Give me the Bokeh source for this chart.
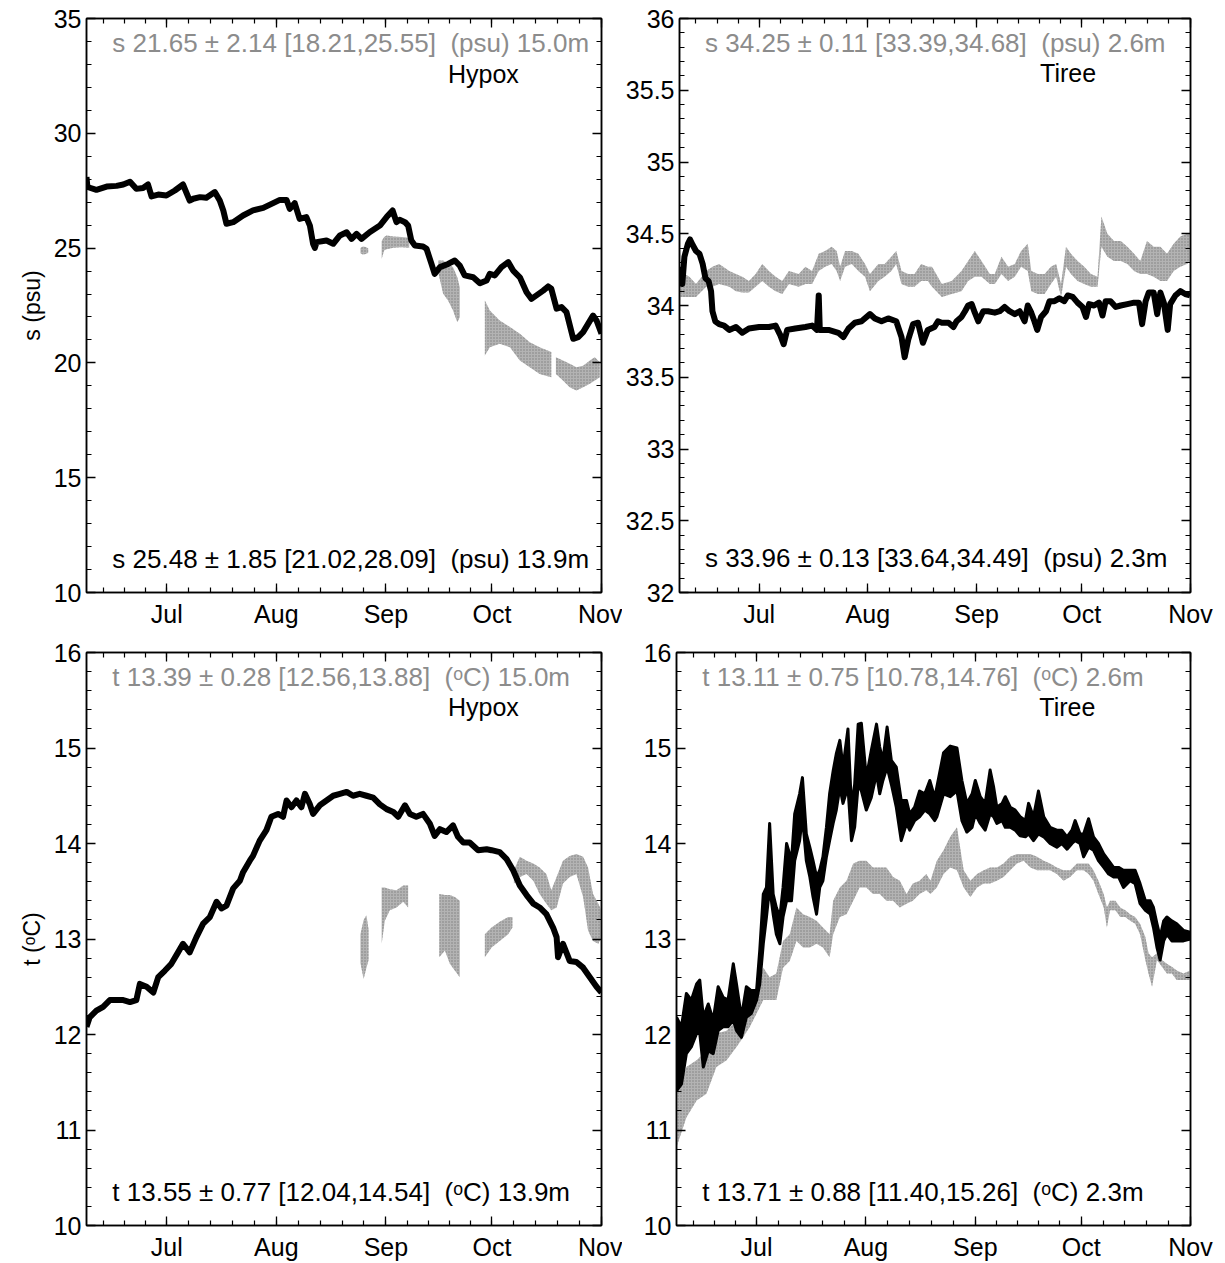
from bokeh.plotting import figure
from bokeh.layouts import column, row
from bokeh.models import FixedTicker, Label, LinearAxis, Range1d, CustomLabelingPolicy
from bokeh.embed import file_html
from bokeh.resources import INLINE

# ---- time axis: days counted from 1 June ----
month_starts = [0, 30, 61, 92, 122, 153]
month_ticks = [30, 61, 92, 122, 153]
month_names = ["Jul", "Aug", "Sep", "Oct", "Nov"]
x_start, x_end = 7.3, 153.0

# ---- Hypox salinity: 13.9 m (black) ----
hyp_s_day = [7.3, 7.5, 7.8, 10.1, 13.0, 15.8, 17.7, 19.6, 21.4, 23.3, 24.7, 25.7, 27.6, 29.9, 32.3,
             34.6, 36.5, 37.5, 39.4, 41.2, 43.6, 45.0, 46.0, 46.9, 48.8, 51.6, 54.4, 57.3, 60.1,
             62.0, 63.9, 64.8, 66.2, 67.6, 69.5, 70.5, 71.4, 71.9, 72.4, 75.2, 77.1, 79.0, 80.9,
             82.3, 83.7, 85.1, 87.4, 90.3, 92.2, 93.9, 95.0, 95.9, 97.4, 98.3, 99.2, 100.2, 102.5,
             103.5, 104.9, 105.8, 107.3, 109.6, 111.5, 112.9, 114.3, 116.7, 118.6, 120.5, 121.4,
             122.8, 124.7, 126.6, 128.0, 129.9, 131.8, 133.2, 134.6, 136.5, 137.9, 138.8, 140.3,
             141.7, 143.1, 145.0, 146.4, 147.8, 149.2, 150.6, 151.6, 153.0]
hyp_s_val = [28.10, 27.75, 27.65, 27.54, 27.68, 27.71, 27.77, 27.89, 27.58, 27.62, 27.77, 27.25, 27.33,
             27.29, 27.51, 27.77, 27.07, 27.15, 27.22, 27.19, 27.44, 27.07, 26.64, 26.06, 26.13,
             26.42, 26.64, 26.75, 26.96, 27.10, 27.10, 26.71, 26.96, 26.27, 26.35, 25.98, 25.19,
             25.01, 25.26, 25.33, 25.19, 25.55, 25.69, 25.40, 25.62, 25.40, 25.69, 25.98, 26.35,
             26.64, 26.13, 26.23, 26.13, 25.98, 25.33, 25.11, 25.07, 24.97, 24.31, 23.88, 24.17,
             24.31, 24.46, 24.24, 23.81, 23.73, 23.47, 23.59, 23.88, 23.81, 24.17, 24.39, 24.02,
             23.73, 23.08, 22.79, 22.94, 23.15, 23.33, 23.23, 22.36, 22.43, 22.21, 21.05, 21.12,
             21.34, 21.70, 22.06, 21.85, 21.27]

# ---- Hypox salinity: 15.0 m (grey), spread per sample, grouped in records ----
hyp_s2_grp = [0, 0, 0, 0,
              1, 1, 1, 1, 1, 1,
              2, 2, 2, 2, 2, 2,
              3, 3, 3, 3, 3, 3, 3, 3,
              4, 4, 4, 4, 4, 4, 4, 4]
hyp_s2_day = [84.8, 85.5, 86.3, 87.0,
              90.8, 91.5, 92.2, 94.1, 96.4, 98.6,
              106.8, 108.2, 109.6, 111.0, 112.2, 112.9,
              120.0, 121.4, 124.2, 127.1, 129.9, 132.7, 135.5, 138.8,
              140.1, 142.1, 144.0, 145.9, 147.8, 149.7, 151.1, 152.5]
hyp_s2_hi = [25.00, 25.07, 25.05, 24.98,
             25.30, 25.48, 25.55, 25.51, 25.48, 25.45,
             24.46, 24.46, 24.31, 24.17, 23.73, 23.30,
             22.72, 22.28, 21.85, 21.56, 21.27, 20.90, 20.68, 20.47,
             20.25, 20.10, 19.96, 19.81, 19.88, 20.10, 20.25, 20.03]
hyp_s2_lo = [24.78, 24.72, 24.74, 24.80,
             24.53, 24.90, 24.95, 25.01, 25.04, 25.01,
             23.95, 23.01, 22.72, 22.28, 21.77, 21.99,
             20.32, 20.68, 20.83, 20.68, 20.10, 19.81, 19.52, 19.38,
             19.52, 19.23, 18.94, 18.80, 18.94, 19.09, 19.23, 19.38]

# ---- Tiree salinity: 2.3 m (black) ----
tir_s_day = [7.3, 8.1, 8.7, 9.7, 10.3, 11.1, 12.0, 13.0, 13.9, 14.7, 15.6, 16.3, 16.7, 17.5, 18.6,
             20.0, 21.5, 23.4, 25.2, 27.1, 30.0, 32.8, 34.7, 36.1, 37.0, 38.0, 40.3, 43.2, 45.1,
             46.5, 47.0, 47.3, 49.8, 52.6, 54.0, 55.5, 57.3, 59.2, 61.6, 63.0, 64.9, 66.8, 69.1,
             70.6, 71.5, 72.5, 73.9, 75.3, 76.7, 78.1, 80.0, 81.0, 82.1, 84.0, 85.4, 86.3, 87.7,
             88.7, 89.6, 90.6, 91.5, 92.5, 93.9, 95.3, 97.2, 98.6, 100.0, 101.4, 102.9, 104.3,
             105.7, 106.6, 107.6, 108.5, 109.3, 110.4, 111.8, 112.8, 114.2, 115.6, 117.0, 118.0,
             119.4, 120.8, 122.2, 123.2, 124.1, 125.5, 126.9, 127.9, 128.8, 130.2, 131.7, 133.1,
             135.0, 136.9, 138.3, 139.2, 140.2, 141.1, 142.5, 143.5, 144.4, 145.4, 146.5, 147.2,
             148.7, 150.1, 151.5, 152.9]
tir_s_val = [34.27, 34.15, 34.34, 34.43, 34.46, 34.42, 34.38, 34.36, 34.29, 34.19, 34.17, 34.10,
             33.96, 33.89, 33.87, 33.86, 33.83, 33.85, 33.81, 33.84, 33.85, 33.85, 33.86, 33.79,
             33.73, 33.83, 33.84, 33.85, 33.86, 33.83, 34.07, 33.83, 33.83, 33.81, 33.78, 33.84,
             33.88, 33.89, 33.94, 33.91, 33.89, 33.91, 33.89, 33.78, 33.64, 33.76, 33.87, 33.88,
             33.74, 33.83, 33.85, 33.89, 33.88, 33.88, 33.85, 33.89, 33.92, 33.96, 34.00, 34.01,
             33.95, 33.89, 33.96, 33.96, 33.95, 33.96, 33.99, 33.96, 33.94, 33.96, 33.89, 34.00,
             33.95, 33.89, 33.83, 33.92, 33.96, 34.03, 34.03, 34.05, 34.03, 34.07, 34.06, 34.02,
             33.99, 33.92, 34.01, 34.00, 34.02, 33.93, 34.03, 34.03, 33.99, 34.00, 34.01, 34.02,
             34.02, 33.87, 34.03, 34.09, 34.09, 33.94, 34.09, 34.02, 33.83, 34.01, 34.07, 34.10,
             34.08, 34.07]

# ---- Tiree salinity: 2.6 m (grey) ----
tir_s2_day = [7.3, 10.1, 12.0, 14.9, 16.7, 18.6, 21.5, 23.4, 25.2, 27.1, 29.0, 30.9, 32.8, 34.7,
              36.6, 38.5, 41.3, 43.2, 45.1, 47.0, 48.8, 50.7, 52.1, 53.1, 54.5, 56.4, 58.3, 60.2,
              61.6, 64.0, 65.8, 67.7, 69.1, 70.6, 72.5, 74.3, 76.2, 78.1, 79.3, 82.1, 84.9, 87.7,
              89.6, 91.5, 93.4, 95.8, 97.2, 99.1, 101.0, 102.9, 104.7, 106.6, 107.6, 109.5, 111.4,
              113.2, 114.7, 116.1, 117.5, 118.9, 120.8, 122.7, 124.6, 126.5, 127.6, 129.3, 131.2,
              133.1, 135.0, 136.9, 138.7, 140.6, 142.5, 144.4, 146.3, 148.2, 150.1, 152.0, 153.0]
tir_s2_hi = [34.24, 34.20, 34.15, 34.24, 34.27, 34.29, 34.24, 34.22, 34.20, 34.17, 34.22, 34.29,
             34.24, 34.20, 34.17, 34.24, 34.22, 34.27, 34.24, 34.36, 34.38, 34.41, 34.38, 34.27,
             34.38, 34.38, 34.36, 34.29, 34.22, 34.29, 34.29, 34.34, 34.38, 34.24, 34.22, 34.22,
             34.29, 34.27, 34.27, 34.15, 34.17, 34.24, 34.31, 34.38, 34.31, 34.22, 34.22, 34.34,
             34.27, 34.29, 34.38, 34.43, 34.24, 34.22, 34.22, 34.27, 34.29, 34.15, 34.41, 34.36,
             34.31, 34.27, 34.22, 34.20, 34.62, 34.50, 34.45, 34.45, 34.41, 34.36, 34.31, 34.45,
             34.41, 34.41, 34.36, 34.43, 34.48, 34.50, 34.50]
tir_s2_lo = [34.06, 34.06, 34.06, 34.13, 34.13, 34.15, 34.13, 34.10, 34.09, 34.09, 34.13, 34.17,
             34.13, 34.10, 34.08, 34.15, 34.13, 34.15, 34.15, 34.24, 34.27, 34.29, 34.24, 34.17,
             34.27, 34.29, 34.24, 34.20, 34.10, 34.17, 34.20, 34.24, 34.29, 34.15, 34.13, 34.13,
             34.17, 34.17, 34.13, 34.06, 34.08, 34.10, 34.17, 34.20, 34.20, 34.15, 34.15, 34.22,
             34.17, 34.20, 34.27, 34.24, 34.10, 34.08, 34.08, 34.15, 34.20, 34.06, 34.27, 34.22,
             34.17, 34.15, 34.13, 34.13, 34.41, 34.34, 34.31, 34.31, 34.29, 34.24, 34.22, 34.22,
             34.20, 34.17, 34.17, 34.24, 34.27, 34.29, 34.31]

# ---- Hypox temperature: 13.9 m (black) ----
hyp_t_day = [7.3, 8.2, 10.1, 12.0, 13.9, 15.8, 17.7, 19.6, 21.4, 22.4, 24.3, 26.2, 27.6, 29.5, 31.3,
             33.2, 34.6, 36.5, 38.4, 40.3, 42.2, 44.1, 45.5, 46.9, 48.8, 50.7, 51.6, 53.5, 54.4,
             56.3, 58.2, 59.6, 61.5, 62.9, 63.9, 65.3, 66.7, 68.1, 69.1, 70.5, 71.4, 73.3, 75.2,
             77.1, 79.0, 80.9, 82.7, 84.6, 86.5, 88.4, 90.3, 92.2, 94.1, 95.5, 97.4, 98.8, 100.6,
             102.5, 104.4, 105.8, 107.3, 109.1, 111.0, 112.4, 113.9, 115.7, 118.1, 120.5, 121.9,
             124.2, 126.1, 128.0, 129.9, 131.8, 133.7, 135.5, 137.4, 139.3, 140.3, 140.7, 142.1,
             144.0, 145.9, 147.8, 149.7, 151.6, 153.0]
hyp_t_val = [12.08, 12.18, 12.25, 12.29, 12.36, 12.36, 12.36, 12.34, 12.36, 12.53, 12.50, 12.44,
             12.60, 12.67, 12.74, 12.86, 12.95, 12.86, 13.02, 13.16, 13.23, 13.39, 13.32, 13.35,
             13.53, 13.61, 13.70, 13.82, 13.87, 14.03, 14.14, 14.28, 14.31, 14.28, 14.45, 14.38,
             14.45, 14.38, 14.52, 14.41, 14.31, 14.40, 14.45, 14.50, 14.52, 14.54, 14.50, 14.52,
             14.50, 14.48, 14.41, 14.36, 14.33, 14.28, 14.40, 14.31, 14.28, 14.31, 14.21, 14.08,
             14.15, 14.12, 14.19, 14.07, 14.01, 14.01, 13.93, 13.94, 13.93, 13.91, 13.84, 13.72,
             13.56, 13.46, 13.37, 13.33, 13.26, 13.12, 13.02, 12.81, 12.95, 12.77, 12.76, 12.70,
             12.60, 12.50, 12.44]

# ---- Hypox temperature: 15.0 m (grey) ----
hyp_t2_grp = [0, 0, 0, 0,
              1, 1, 1, 1, 1, 1,
              2, 2, 2, 2, 2,
              3, 3, 3, 3, 3,
              4, 4, 4, 4, 4, 4, 4, 4, 4, 4, 4, 4, 4, 4, 4, 4]
hyp_t2_day = [84.8, 85.7, 86.5, 87.1,
              90.8, 91.7, 93.1, 95.0, 96.9, 98.3,
              107.1, 108.7, 110.1, 111.5, 112.9,
              120.0, 121.9, 124.2, 126.6, 127.8,
              128.2, 129.9, 131.8, 133.7, 135.5, 137.4, 138.8, 140.3, 142.1, 144.0, 145.9, 147.8,
              149.2, 150.6, 152.1, 153.0]
hyp_t2_hi = [13.05, 13.20, 13.25, 13.10,
             13.54, 13.54, 13.52, 13.51, 13.56, 13.56,
             13.47, 13.46, 13.46, 13.44, 13.40,
             13.05, 13.12, 13.18, 13.23, 13.23,
             13.72, 13.86, 13.82, 13.79, 13.75, 13.68, 13.51, 13.65, 13.82, 13.87, 13.89, 13.86,
             13.75, 13.47, 13.37, 13.30]
hyp_t2_lo = [12.75, 12.58, 12.70, 12.78,
             12.95, 13.19, 13.30, 13.33, 13.39, 13.33,
             12.81, 12.88, 12.74, 12.67, 12.60,
             12.81, 12.91, 12.98, 13.05, 13.12,
             13.58, 13.65, 13.68, 13.61, 13.47, 13.37, 13.30, 13.33, 13.58, 13.65, 13.68, 13.44,
             13.09, 12.98, 12.95, 13.02]

# ---- Tiree temperature: 2.3 m (black), spread per sample ----
tir_t_day = [7.3, 8.7, 10.1, 11.5, 13.0, 13.9, 14.9, 16.3, 17.7, 19.1, 20.5, 21.9, 23.4, 24.3, 25.7,
             27.1, 28.5, 30.0, 30.9, 31.9, 32.8, 33.7, 34.7, 35.6, 36.6, 37.5, 38.5, 39.9, 40.8,
             42.2, 43.0, 44.1, 45.1, 46.0, 47.0, 47.9, 48.8, 49.8, 50.7, 51.7, 52.6, 53.6, 54.5,
             55.9, 56.9, 57.8, 58.8, 59.7, 61.1, 62.5, 64.0, 64.9, 65.8, 67.0, 68.2, 69.6, 71.0,
             72.5, 73.4, 74.8, 76.2, 77.7, 79.1, 80.5, 81.1, 83.0, 84.9, 86.8, 88.2, 89.6, 91.1,
             92.0, 93.4, 94.8, 96.2, 97.2, 98.1, 99.6, 100.5, 101.9, 103.3, 104.7, 106.2, 107.1,
             108.5, 109.9, 111.4, 113.2, 115.1, 116.5, 118.0, 119.4, 120.3, 121.7, 122.7, 124.1,
             125.5, 126.9, 128.4, 129.8, 131.2, 132.6, 134.0, 135.9, 137.3, 138.7, 140.2, 141.6,
             142.5, 143.5, 144.4, 145.4, 146.3, 147.7, 149.1, 151.0, 152.9]
tir_t_hi = [12.18, 12.08, 12.43, 12.36, 12.53, 12.57, 12.18, 12.32, 12.15, 12.50, 12.39, 12.36,
            12.74, 12.53, 12.18, 12.50, 12.46, 12.46, 12.88, 13.47, 13.54, 14.21, 13.47, 13.33,
            13.23, 13.54, 14.00, 13.82, 14.31, 14.52, 14.69, 14.10, 13.96, 13.82, 13.65, 13.72,
            13.86, 14.17, 14.52, 14.76, 14.94, 15.08, 14.80, 15.20, 14.38, 14.62, 15.25, 15.26,
            14.69, 14.97, 15.25, 15.01, 14.87, 15.22, 14.87, 14.80, 14.45, 14.45, 14.31, 14.38,
            14.55, 14.52, 14.66, 14.48, 14.59, 14.95, 15.02, 15.00, 14.66, 14.42, 14.52, 14.66,
            14.49, 14.42, 14.77, 14.59, 14.38, 14.42, 14.49, 14.38, 14.35, 14.28, 14.24, 14.42,
            14.28, 14.55, 14.28, 14.17, 14.14, 14.14, 14.07, 14.14, 14.24, 14.10, 14.10, 14.26,
            14.07, 14.00, 13.89, 13.82, 13.75, 13.75, 13.72, 13.72, 13.72, 13.58, 13.40, 13.40,
            13.33, 13.16, 13.02, 13.19, 13.23, 13.19, 13.16, 13.09, 13.07]
tir_t_lo = [11.41, 11.48, 11.80, 11.87, 12.01, 12.01, 11.66, 11.83, 11.80, 12.04, 12.08, 12.08,
            12.15, 12.04, 11.97, 12.18, 12.22, 12.36, 12.53, 12.95, 13.23, 13.54, 13.26, 13.05,
            12.95, 13.23, 13.40, 13.40, 13.82, 14.03, 14.28, 13.82, 13.65, 13.44, 13.26, 13.54,
            13.61, 13.86, 14.03, 14.21, 14.35, 14.59, 14.42, 14.59, 14.03, 14.17, 14.62, 14.55,
            14.35, 14.48, 14.73, 14.52, 14.66, 14.80, 14.62, 14.38, 14.03, 14.21, 14.14, 14.24,
            14.28, 14.35, 14.31, 14.24, 14.28, 14.52, 14.49, 14.55, 14.24, 14.12, 14.17, 14.31,
            14.21, 14.14, 14.31, 14.28, 14.21, 14.24, 14.17, 14.17, 14.14, 14.08, 14.07, 14.10,
            14.03, 14.10, 14.07, 14.00, 13.96, 14.00, 13.94, 14.00, 14.03, 14.00, 13.86, 13.96,
            13.93, 13.82, 13.75, 13.68, 13.65, 13.65, 13.54, 13.61, 13.58, 13.37, 13.30, 13.26,
            13.12, 12.91, 12.78, 12.98, 13.05, 12.98, 12.98, 12.98, 13.00]

# ---- Tiree temperature: 2.6 m (grey) ----
tir_t2_day = [7.3, 10.1, 13.0, 15.8, 18.6, 21.5, 24.3, 26.2, 28.1, 30.0, 31.9, 33.7, 35.6, 37.5,
              39.4, 41.3, 43.2, 45.1, 47.0, 48.8, 50.7, 51.7, 53.6, 55.5, 57.4, 59.2, 61.1, 63.0,
              64.9, 66.8, 68.7, 70.6, 72.5, 74.3, 76.2, 78.1, 79.3, 81.1, 83.0, 84.9, 86.8, 88.7,
              90.6, 92.5, 94.4, 96.2, 98.1, 100.0, 101.9, 103.8, 105.7, 107.6, 109.5, 111.4, 113.2,
              115.1, 117.0, 118.9, 120.8, 122.7, 124.1, 125.5, 126.9, 128.4, 129.3, 130.2, 131.7,
              133.1, 134.5, 135.9, 137.3, 138.7, 140.2, 141.1, 142.1, 143.5, 144.9, 146.3, 147.7,
              149.1, 151.0, 152.9]
tir_t2_hi = [11.38, 11.66, 11.73, 11.83, 12.01, 12.04, 12.15, 12.29, 12.36, 12.50, 12.70, 12.60,
             12.64, 12.98, 13.05, 13.33, 13.26, 13.23, 13.19, 13.12, 13.05, 13.40, 13.54, 13.61,
             13.79, 13.82, 13.82, 13.75, 13.75, 13.75, 13.65, 13.61, 13.47, 13.58, 13.61, 13.68,
             13.61, 13.82, 13.93, 14.07, 14.17, 13.72, 13.61, 13.68, 13.72, 13.75, 13.75, 13.79,
             13.86, 13.89, 13.89, 13.89, 13.86, 13.82, 13.79, 13.75, 13.72, 13.72, 13.79, 13.79,
             13.79, 13.72, 13.61, 13.47, 13.33, 13.40, 13.40, 13.33, 13.30, 13.26, 13.23, 13.16,
             13.02, 12.85, 12.81, 12.85, 12.78, 12.74, 12.71, 12.67, 12.64, 12.67]
tir_t2_lo = [10.82, 11.13, 11.31, 11.38, 11.66, 11.73, 11.87, 11.97, 12.08, 12.22, 12.36, 12.36,
             12.36, 12.70, 12.77, 12.98, 12.91, 12.91, 12.95, 12.91, 12.81, 13.05, 13.23, 13.26,
             13.40, 13.54, 13.54, 13.47, 13.47, 13.40, 13.40, 13.33, 13.37, 13.40, 13.47, 13.51,
             13.47, 13.54, 13.68, 13.75, 13.72, 13.54, 13.44, 13.54, 13.58, 13.58, 13.61, 13.65,
             13.72, 13.79, 13.82, 13.75, 13.72, 13.72, 13.72, 13.68, 13.61, 13.65, 13.72, 13.72,
             13.68, 13.61, 13.47, 13.33, 13.12, 13.30, 13.30, 13.23, 13.23, 13.19, 13.16, 13.05,
             12.78, 12.64, 12.50, 12.78, 12.71, 12.64, 12.64, 12.57, 12.57, 12.57]

# ---- panel texts ----
GAP = "\u00a0\u00a0"
s_hyp_grey = "s 21.65 \u00b1 2.14 [18.21,25.55]" + GAP + "(psu) 15.0m"
s_hyp_black = "s 25.48 \u00b1 1.85 [21.02,28.09]" + GAP + "(psu) 13.9m"
s_tir_grey = "s 34.25 \u00b1 0.11 [33.39,34.68]" + GAP + "(psu) 2.6m"
s_tir_black = "s 33.96 \u00b1 0.13 [33.64,34.49]" + GAP + "(psu) 2.3m"
t_hyp_grey = "t 13.39 \u00b1 0.28 [12.56,13.88]" + GAP + "(\u1d52C) 15.0m"
t_hyp_black = "t 13.55 \u00b1 0.77 [12.04,14.54]" + GAP + "(\u1d52C) 13.9m"
t_tir_grey = "t 13.11 \u00b1 0.75 [10.78,14.76]" + GAP + "(\u1d52C) 2.6m"
t_tir_black = "t 13.71 \u00b1 0.88 [11.40,15.26]" + GAP + "(\u1d52C) 2.3m"

FONT = "Liberation Sans"
GREY_TXT = "#8c8c8c"
GREY_DOT = "#7f7f7f"

# minor x ticks: five steps per month
x_minor = []
for a, b in zip(month_starts[:-1], month_starts[1:]):
    for k in range(5):
        x_minor.append(a + k * (b - a) / 5)
x_minor.append(month_starts[-1])

# mirrored axes on top/right carry ticks only
NO_LABELS = CustomLabelingPolicy(code="return new Set()")


def frange(a, b, step):
    n = int(round((b - a) / step))
    return [round(a + i * step, 6) for i in range(n + 1)]


def style_axis(ax, labels=True):
    ax.axis_line_color = "black"
    ax.axis_line_width = 1.5
    ax.major_tick_in = 9
    ax.major_tick_out = 0
    ax.minor_tick_in = 5
    ax.minor_tick_out = 0
    ax.major_tick_line_color = "black"
    ax.minor_tick_line_color = "black"
    ax.major_tick_line_width = 1.3
    ax.minor_tick_line_width = 1.2
    ax.major_label_text_font = FONT
    ax.major_label_text_color = "black"
    if labels:
        ax.major_label_text_font_size = "25px"
        ax.major_label_standoff = 5
    else:
        ax.major_label_text_font_size = "1px"
        ax.major_label_policy = NO_LABELS
        ax.major_label_standoff = 0


def make_panel(width, height, bl, br, bt, bb, y0, y1, ystep, yminor, ylabel=None):
    p = figure(width=width, height=height, x_range=Range1d(x_start, x_end),
               y_range=Range1d(y0, y1), output_backend="svg", toolbar_location=None,
               min_border_left=bl, min_border_right=br, min_border_top=bt, min_border_bottom=bb)
    p.grid.visible = False
    p.outline_line_color = "black"
    p.outline_line_width = 1.5
    p.background_fill_color = "white"
    p.border_fill_color = "white"

    xt = FixedTicker(ticks=month_ticks, minor_ticks=x_minor)
    majors = frange(y0, y1, ystep)
    yt = FixedTicker(ticks=majors, minor_ticks=frange(y0, y1, yminor))

    p.xaxis[0].ticker = xt
    p.xaxis[0].major_label_overrides = {d: n for d, n in zip(month_ticks, month_names)}
    style_axis(p.xaxis[0])
    p.xaxis[0].major_label_standoff = 7

    p.yaxis[0].ticker = yt
    p.yaxis[0].major_label_overrides = {(int(v) if float(v).is_integer() else v): f"{v:g}"
                                        for v in majors}
    style_axis(p.yaxis[0])
    if ylabel:
        p.yaxis[0].axis_label = ylabel
        p.yaxis[0].axis_label_text_font = FONT
        p.yaxis[0].axis_label_text_font_size = "23px"
        p.yaxis[0].axis_label_text_font_style = "normal"
        p.yaxis[0].axis_label_text_color = "black"
        p.yaxis[0].axis_label_standoff = 6

    top = LinearAxis(ticker=xt)
    style_axis(top, labels=False)
    p.add_layout(top, "above")
    right = LinearAxis(ticker=yt)
    style_axis(right, labels=False)
    p.add_layout(right, "right")
    return p


def grey_band(p, day, lo, hi, grp=None):
    if grp is None:
        grp = [0] * len(day)
    for g in sorted(set(grp)):
        idx = [i for i, v in enumerate(grp) if v == g]
        p.varea(x=[day[i] for i in idx], y1=[lo[i] for i in idx], y2=[hi[i] for i in idx],
                fill_color="#9a9a9a", fill_alpha=0.75,
                hatch_pattern="dot", hatch_color=GREY_DOT, hatch_scale=3, hatch_weight=1.6)


def add_text(p, x, y, text, color, size="26px", align="left"):
    p.add_layout(Label(x=x, y=y, text=text, text_align=align, text_baseline="middle",
                       text_font=FONT, text_font_size=size, text_color=color))


x_txt = 14.6  # left edge of the statistics lines
LW = 6

# salinity, Hypox
p1 = make_panel(622, 632, 86, 21, 18, 40, 10, 35, 5, 1, "s (psu)")
grey_band(p1, hyp_s2_day, hyp_s2_lo, hyp_s2_hi, hyp_s2_grp)
p1.line(hyp_s_day, hyp_s_val, line_color="black", line_width=LW, line_join="round")
add_text(p1, x_txt, 33.95, s_hyp_grey, GREY_TXT)
add_text(p1, 119.6, 32.6, "Hypox", "black", "25px", "center")
add_text(p1, x_txt, 11.48, s_hyp_black, "black")

# salinity, Tiree
p2 = make_panel(603, 632, 54, 35, 18, 40, 32, 36, 0.5, 0.1)
grey_band(p2, tir_s2_day, tir_s2_lo, tir_s2_hi)
p2.line(tir_s_day, tir_s_val, line_color="black", line_width=LW, line_join="round")
add_text(p2, x_txt, 35.83, s_tir_grey, GREY_TXT)
add_text(p2, 118.1, 35.62, "Tiree", "black", "25px", "center")
add_text(p2, x_txt, 32.237, s_tir_black, "black")

# temperature, Hypox
p3 = make_panel(622, 631, 86, 21, 20, 38, 10, 16, 1, 0.2, "t (\u1d52C)")
grey_band(p3, hyp_t2_day, hyp_t2_lo, hyp_t2_hi, hyp_t2_grp)
p3.line(hyp_t_day, hyp_t_val, line_color="black", line_width=LW, line_join="round")
add_text(p3, x_txt, 15.74, t_hyp_grey, GREY_TXT)
add_text(p3, 119.6, 15.43, "Hypox", "black", "25px", "center")
add_text(p3, x_txt, 10.35, t_hyp_black, "black")

# temperature, Tiree
p4 = make_panel(603, 631, 54, 35, 20, 38, 10, 16, 1, 0.2)
grey_band(p4, tir_t2_day, tir_t2_lo, tir_t2_hi)
p4.varea(x=tir_t_day, y1=tir_t_lo, y2=tir_t_hi, fill_color="black")
p4.line(tir_t_day, tir_t_hi, line_color="black", line_width=3, line_join="round")
p4.line(tir_t_day, tir_t_lo, line_color="black", line_width=3, line_join="round")
add_text(p4, x_txt, 15.74, t_tir_grey, GREY_TXT)
add_text(p4, 118.1, 15.43, "Tiree", "black", "25px", "center")
add_text(p4, x_txt, 10.35, t_tir_black, "black")

layout = column(row(p1, p2), row(p3, p4))
open("out.html", "w").write(file_html(layout, INLINE))
